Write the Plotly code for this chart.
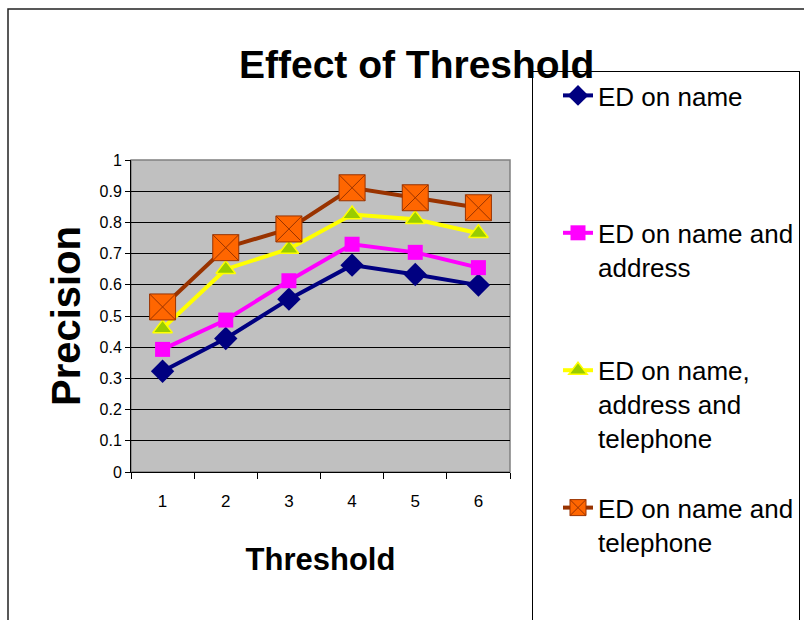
import plotly.graph_objects as go

thresholds = ["1", "2", "3", "4", "5", "6"]
series_names = [
    "ED on name",
    "ED on name and<br>address",
    "ED on name,<br>address and<br>telephone",
    "ED on name and<br>telephone",
]
ed_name = [0.323, 0.428, 0.554, 0.663, 0.633, 0.599]
ed_name_address = [0.393, 0.487, 0.613, 0.730, 0.704, 0.655]
ed_name_address_tel = [0.460, 0.650, 0.715, 0.825, 0.810, 0.765]
ed_name_tel = [0.529, 0.719, 0.779, 0.911, 0.879, 0.847]

W, H = 804, 620
L, R, T, B = 131, 294, 160, 148
FONT = "Liberation Sans, Arial"

def pad(name, lines):
    n = name.count("<br>") + 1
    return name + "<br>\u00a0" * (lines - n)

styles = [
    dict(line=dict(color="#000080", width=4),
         marker=dict(symbol="diamond", size=18, color="#000080")),
    dict(line=dict(color="#FF00FF", width=4),
         marker=dict(symbol="square", size=15, color="#FF00FF")),
    dict(line=dict(color="#FFFF00", width=4),
         marker=dict(symbol="triangle-up", size=17, color="#99CC00",
                     line=dict(color="#FFFF00", width=1.5))),
    dict(line=dict(color="#993300", width=4),
         marker=dict(symbol="square-x", size=26, color="#FF6600",
                     line=dict(color="#993300", width=1))),
]
data = [ed_name, ed_name_address, ed_name_address_tel, ed_name_tel]
pad_lines = [3, 3, 3, 4]

fig = go.Figure()
for i, (nm, ys, st) in enumerate(zip(series_names, data, styles)):
    fig.add_trace(go.Scatter(x=thresholds, y=ys, name=pad(nm, pad_lines[i]), mode="lines+markers",
                             legendgroup=f"g{i}", **st))

pw = W - L - R
ph = H - T - B
def px_x(p):
    return (p - L) / pw
def px_y(p):
    return (H - B - p) / ph

fig.update_layout(
    width=W, height=H,
    margin=dict(l=L, r=R, t=T, b=B, autoexpand=False),
    paper_bgcolor="white",
    plot_bgcolor="#C0C0C0",
    title=dict(text="<b>Effect of Threshold</b>", font=dict(family=FONT, size=39, color="black"),
               x=239 / W, xanchor="left", xref="container",
               y=1 - 64 / H, yanchor="middle", yref="container"),
    showlegend=True,
    legend=dict(
        x=532 / W, y=1 - 71 / H, xref="container", yref="container",
        xanchor="left", yanchor="top",
        bgcolor="white", bordercolor="black", borderwidth=1,
        font=dict(family=FONT, size=26, color="black"),
        tracegroupgap=33, valign="top", indentation=25,
        entrywidth=340, entrywidthmode="pixels", maxheight=620,
    ),
    xaxis=dict(
        type="category", range=[-0.5, 5.5], tickson="boundaries",
        ticks="outside", ticklen=6, tickcolor="black", tickwidth=1,
        showline=True, linecolor="black", linewidth=1,
        showgrid=False, ticklabelstandoff=14,
        tickfont=dict(family=FONT, size=17, color="black"),
        title=dict(text="<b>Threshold</b>", font=dict(family=FONT, size=31, color="black"), standoff=37),
    ),
    yaxis=dict(
        range=[0, 1], dtick=0.1, tick0=0,
        ticks="outside", ticklen=5, tickcolor="black", tickwidth=1,
        showline=True, linecolor="black", linewidth=1,
        showgrid=True, gridcolor="black", gridwidth=1, zeroline=False,
        tickfont=dict(family=FONT, size=16, color="black"),
        title=dict(text="<b>Precision</b>", font=dict(family=FONT, size=40, color="black"), standoff=6),
    ),
    shapes=[
        dict(type="rect", xref="paper", yref="paper", x0=0, x1=1, y0=0, y1=1,
             line=dict(color="#808080", width=1.5), layer="below"),
        dict(type="rect", xref="paper", yref="paper", x0=px_x(8), x1=px_x(830),
             y0=px_y(640), y1=px_y(9), line=dict(color="#222222", width=1.5), layer="below"),
    ],
)

fig.write_html("out.html")
